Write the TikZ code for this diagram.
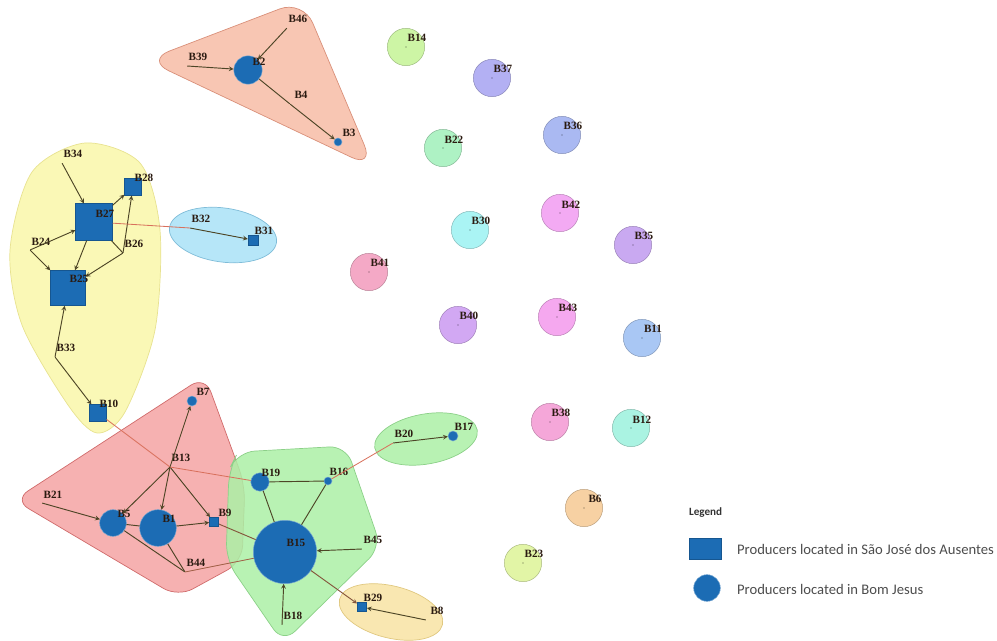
\documentclass[tikz,border=0pt]{standalone}
\usepackage{fontspec}
\setmainfont{Liberation Serif}
\newfontfamily\legendfont{Carlito}

\definecolor{nodeblue}{HTML}{1C6CB4}
\definecolor{edgecol}{HTML}{4D4526}
\definecolor{rededge}{HTML}{D8705C}
\definecolor{labeltxt}{HTML}{2A1A10}
\definecolor{salmonf}{HTML}{F7BCA6}
\definecolor{salmond}{HTML}{D9907A}
\definecolor{yellowf}{HTML}{F9F7A9}
\definecolor{yellowd}{HTML}{E8E290}
\definecolor{skyf}{HTML}{A9E2F7}
\definecolor{skyd}{HTML}{7FBCD8}
\definecolor{redf}{HTML}{F5A3A3}
\definecolor{redd}{HTML}{D06B6B}
\definecolor{greenf}{HTML}{ABF0A6}
\definecolor{greend}{HTML}{8CD088}
\definecolor{sandf}{HTML}{F8E3A3}
\definecolor{sandd}{HTML}{E0C880}
\definecolor{c14}{HTML}{CDF5A5}
\definecolor{c37}{HTML}{B3B0F3}
\definecolor{c22}{HTML}{AEF2C4}
\definecolor{c36}{HTML}{AAB9F2}
\definecolor{c30}{HTML}{AAF4F4}
\definecolor{c42}{HTML}{F3AAF3}
\definecolor{c35}{HTML}{C9A9F1}
\definecolor{c41}{HTML}{F4A9C6}
\definecolor{c40}{HTML}{D2A8F3}
\definecolor{c43}{HTML}{F5A8EF}
\definecolor{c11}{HTML}{A9C7F4}
\definecolor{c38}{HTML}{F5A7D9}
\definecolor{c12}{HTML}{AAF3E2}
\definecolor{c6}{HTML}{F7D1A3}
\definecolor{c23}{HTML}{E2F5A6}

\begin{document}
\begin{tikzpicture}[x=0.03cm,y=-0.03cm,>=stealth,
    sq/.style={draw=nodeblue!80!black,fill=nodeblue,inner sep=0,minimum size=#1},
    ci/.style={circle,draw=nodeblue!60!white,fill=nodeblue,inner sep=0,minimum size=#1},
    pnt/.style={inner sep=0,minimum size=0},
    lbl/.style={font=\bfseries\fontsize{9.5}{10}\selectfont,text=labeltxt,inner sep=0},
    tag/.style={label={[lbl,xshift=0.33cm,yshift=0.26cm]center:#1}},
    link/.style={draw=edgecol,line width=0.8pt},
    redlink/.style={draw=rededge,line width=0.7pt},
    hull/.style 2 args={fill=#1,draw=#2,line width=0.6pt,fill opacity=0.85},
    blob/.style={circle,fill=#1,draw=#1!75!black,line width=0.4pt,inner sep=0,
      minimum size=1.12cm,
      path picture={\fill[#1!40!black] (path picture bounding box.center) circle (0.6pt) ;}},
    legtxt/.style={font=\legendfont\fontsize{12.5}{14}\selectfont,text=black!70}]
  \useasboundingbox (0,0) rectangle (997,641) ;

  % cluster hulls
  \draw[hull={yellowf}{yellowd}] plot[smooth cycle] coordinates
    {(85,143) (140,163) (160,230) (155,330) (125,412) (97,433) (68,405) (22,325) (10,250) (32,172)} ;
  \draw[hull={redf}{redd},rounded corners=0.5cm]
    (14,500) -- (205,376) -- (245,485) -- (242,562) -- (178,597) -- cycle ;
  \draw[hull={greenf}{greend},rounded corners=0.5cm]
    (238,452) -- (346,446) -- (381,547) -- (283,643) -- (226,560) -- (229,470) -- cycle ;
  \draw[hull={salmonf}{salmond},rounded corners=0.75cm]
    (146,60) -- (303,0) -- (374,168) -- cycle ;
  \draw[hull={skyf}{skyd},rotate around={-8:(223,235)}] (223,235) ellipse (54 and 27) ;
  \draw[hull={greenf}{greend},rotate around={10:(426,439)}] (426,439) ellipse (52 and 25) ;
  \draw[hull={sandf}{sandd},rotate around={-14:(391,612)}] (391,612) ellipse (53 and 26) ;

  % producers
  \node[pnt,tag=B39] (b39) at (187,66) {} ;
  \node[pnt,tag=B46] (b46) at (287,28) {} ;
  \node[ci=0.85cm,tag=B2] (b2) at (248,70) {} ;
  \node[pnt,tag=B4] (b4) at (290,104) {} ;
  \node[ci=0.24cm,tag=B3] (b3) at (338,142) {} ;

  \node[pnt,tag=B34] (b34) at (62,163) {} ;
  \node[sq=0.5cm,tag=B28] (b28) at (133,187) {} ;
  \node[sq=1.1cm,tag=B27] (b27) at (94,222) {} ;
  \node[pnt,tag=B24] (b24) at (30,250) {} ;
  \node[pnt,tag=B26] (b26) at (123,253) {} ;
  \node[sq=1.05cm,tag=B25] (b25) at (68,288) {} ;
  \node[pnt,tag=B33] (b33) at (55,357) {} ;
  \node[sq=0.5cm,tag=B10] (b10) at (98,413) {} ;

  \node[pnt,tag=B32] (b32) at (190,228) {} ;
  \node[sq=0.3cm,tag=B31] (b31) at (253,240) {} ;

  \node[ci=0.3cm,tag=B7] (b7) at (192,401) {} ;
  \node[pnt,tag=B13] (b13) at (170,467) {} ;
  \node[pnt,tag=B21] (b21) at (42,503) {} ;
  \node[ci=0.8cm,tag=B5] (b5) at (113,523) {} ;
  \node[ci=1.1cm,tag=B1] (b1) at (158,528) {} ;
  \node[sq=0.28cm,tag=B9] (b9) at (214,522) {} ;
  \node[pnt,tag=B44] (b44) at (185,572) {} ;

  \node[ci=0.55cm,tag=B19] (b19) at (260,482) {} ;
  \node[ci=0.24cm,tag=B16] (b16) at (328,481) {} ;
  \node[ci=1.9cm,tag=B15] (b15) at (285,552) {} ;
  \node[pnt,tag=B45] (b45) at (362,549) {} ;
  \node[pnt,tag=B18] (b18) at (282,625) {} ;
  \node[sq=0.28cm,tag=B29] (b29) at (362,607) {} ;
  \node[pnt,tag=B8] (b8) at (426,620) {} ;
  \node[pnt,tag=B20] (b20) at (393,443) {} ;
  \node[ci=0.3cm,tag=B17] (b17) at (453,436) {} ;

  % links
  \draw[link,->] (b39) -- (b2) ;
  \draw[link,->] (b46) -- (b2) ;
  \draw[link] (b2) -- (b4) ;
  \draw[link,->] (b4) -- (b3) ;
  \draw[link,->] (b34) -- (b27) ;
  \draw[link,->] (b27) -- (b28) ;
  \draw[link,->] (b26) -- (b28) ;
  \draw[link] (b27) -- (b26) ;
  \draw[link,->] (b24) -- (b27) ;
  \draw[link,->] (b24) -- (b25) ;
  \draw[link,->] (b27) -- (b25) ;
  \draw[link,->] (b26) -- (b25) ;
  \draw[link,->] (b33) -- (b25) ;
  \draw[link,->] (b33) -- (b10) ;
  \draw[redlink] (b27) -- (b32) ;
  \draw[link,->] (b32) -- (b31) ;
  \draw[redlink] (b10) -- (b13) ;
  \draw[link,->] (b13) -- (b7) ;
  \draw[link,->] (b13) -- (b5) ;
  \draw[link,->] (b13) -- (b1) ;
  \draw[link,->] (b13) -- (b9) ;
  \draw[link,->] (b21) -- (b5) ;
  \draw[link] (b5) -- (b1) ;
  \draw[link,->] (b1) -- (b9) ;
  \draw[link] (b5) -- (b44) ;
  \draw[link] (b1) -- (b44) ;
  \draw[redlink] (b13) -- (b19) ;
  \draw[redlink,draw=rededge!60!edgecol] (b44) -- (b15) ;
  \draw[link,draw=rededge!40!edgecol] (b9) -- (b15) ;
  \draw[link] (b19) -- (b16) ;
  \draw[link] (b19) -- (b15) ;
  \draw[link] (b16) -- (b15) ;
  \draw[link,->] (b45) -- (b15) ;
  \draw[link,->] (b18) -- (b15) ;
  \draw[link,draw=rededge!40!edgecol,->] (b15) -- (b29) ;
  \draw[link,->] (b8) -- (b29) ;
  \draw[redlink] (b16) -- (b20) ;
  \draw[link,->] (b20) -- (b17) ;

  % producers without links
  \node[blob=c14,tag=B14] (b14) at (406,47) {} ;
  \node[blob=c37,tag=B37] (b37) at (492,78) {} ;
  \node[blob=c22,tag=B22] (b22) at (443,148) {} ;
  \node[blob=c36,tag=B36] (b36) at (562,135) {} ;
  \node[blob=c30,tag=B30] (b30) at (470,230) {} ;
  \node[blob=c42,tag=B42] (b42) at (560,213) {} ;
  \node[blob=c35,tag=B35] (b35) at (633,245) {} ;
  \node[blob=c41,tag=B41] (b41) at (369,272) {} ;
  \node[blob=c40,tag=B40] (b40) at (458,325) {} ;
  \node[blob=c43,tag=B43] (b43) at (557,317) {} ;
  \node[blob=c11,tag=B11] (b11) at (642,338) {} ;
  \node[blob=c38,tag=B38] (b38) at (550,422) {} ;
  \node[blob=c12,tag=B12] (b12) at (631,428) {} ;
  \node[blob=c6,tag=B6] (b6) at (584,508) {} ;
  \node[blob=c23,tag=B23] (b23) at (523,563) {} ;

  % legend
  \node[anchor=west,font=\legendfont\bfseries\fontsize{9.5}{10}\selectfont,text=black!80] (legtitle) at (685,513) {Legend} ;
  \node[sq=0.6cm,minimum width=0.95cm,minimum height=0.62cm] (legsq) at (705,549) {} ;
  \node[anchor=west,legtxt] (legsqtxt) at (733,549) {Producers located in São José dos Ausentes} ;
  \node[ci=0.8cm] (legci) at (707,588) {} ;
  \node[anchor=west,legtxt] (legcitxt) at (733,589) {Producers located in Bom Jesus} ;
\end{tikzpicture}
\end{document}
